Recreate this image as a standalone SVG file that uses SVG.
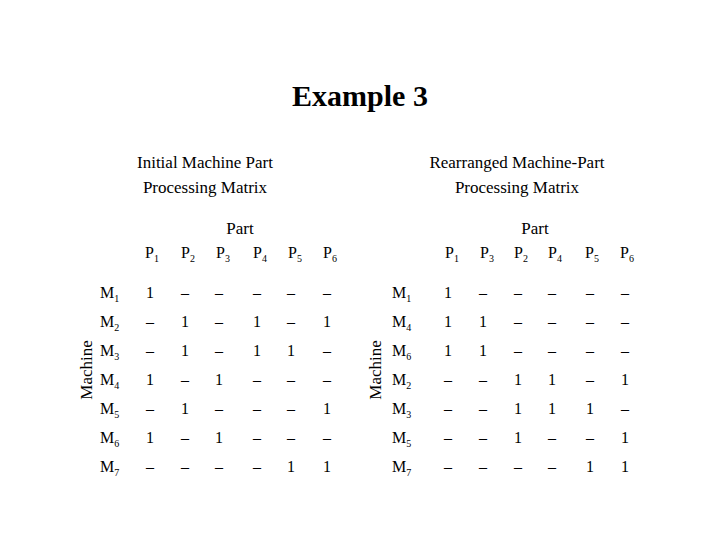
<svg xmlns="http://www.w3.org/2000/svg" width="720" height="540" viewBox="0 0 720 540">
<style>
text{font-family:"Liberation Serif","Times New Roman",serif;fill:#000}
.t{font-size:30px;font-weight:bold;text-anchor:middle}
.s{font-size:17px;text-anchor:middle}
.c{font-size:16px;text-anchor:middle}
.r{font-size:16px}
.sub{font-size:10px}
</style>
<rect width="720" height="540" fill="#fff"/>
<text class="t" x="360" y="106">Example 3</text>
<g id="left">
<text class="s" x="205" y="168">Initial Machine Part</text>
<text class="s" x="205" y="193">Processing Matrix</text>
<text class="s" x="240" y="234">Part</text>
<text class="s" transform="translate(92,370) rotate(-90)">Machine</text>
<g class="c">
<text x="152" y="258">P<tspan class="sub" dy="4">1</tspan></text>
<text x="188" y="258">P<tspan class="sub" dy="4">2</tspan></text>
<text x="223" y="258">P<tspan class="sub" dy="4">3</tspan></text>
<text x="260" y="258">P<tspan class="sub" dy="4">4</tspan></text>
<text x="295" y="258">P<tspan class="sub" dy="4">5</tspan></text>
<text x="330" y="258">P<tspan class="sub" dy="4">6</tspan></text>
</g>
<g class="r">
<text x="100" y="298">M<tspan class="sub" dy="4">1</tspan></text>
<text x="100" y="327">M<tspan class="sub" dy="4">2</tspan></text>
<text x="100" y="356">M<tspan class="sub" dy="4">3</tspan></text>
<text x="100" y="385">M<tspan class="sub" dy="4">4</tspan></text>
<text x="100" y="414">M<tspan class="sub" dy="4">5</tspan></text>
<text x="100" y="443">M<tspan class="sub" dy="4">6</tspan></text>
<text x="100" y="472">M<tspan class="sub" dy="4">7</tspan></text>
</g>
<g class="c">
<text x="150" y="298">1</text><text x="185" y="298">–</text><text x="219" y="298">–</text><text x="257" y="298">–</text><text x="291" y="298">–</text><text x="327" y="298">–</text>
<text x="150" y="327">–</text><text x="185" y="327">1</text><text x="219" y="327">–</text><text x="257" y="327">1</text><text x="291" y="327">–</text><text x="327" y="327">1</text>
<text x="150" y="356">–</text><text x="185" y="356">1</text><text x="219" y="356">–</text><text x="257" y="356">1</text><text x="291" y="356">1</text><text x="327" y="356">–</text>
<text x="150" y="385">1</text><text x="185" y="385">–</text><text x="219" y="385">1</text><text x="257" y="385">–</text><text x="291" y="385">–</text><text x="327" y="385">–</text>
<text x="150" y="414">–</text><text x="185" y="414">1</text><text x="219" y="414">–</text><text x="257" y="414">–</text><text x="291" y="414">–</text><text x="327" y="414">1</text>
<text x="150" y="443">1</text><text x="185" y="443">–</text><text x="219" y="443">1</text><text x="257" y="443">–</text><text x="291" y="443">–</text><text x="327" y="443">–</text>
<text x="150" y="472">–</text><text x="185" y="472">–</text><text x="219" y="472">–</text><text x="257" y="472">–</text><text x="291" y="472">1</text><text x="327" y="472">1</text>
</g>
</g>
<g id="right">
<text class="s" x="517" y="168">Rearranged Machine-Part</text>
<text class="s" x="517" y="193">Processing Matrix</text>
<text class="s" x="535" y="234">Part</text>
<text class="s" transform="translate(381,370) rotate(-90)">Machine</text>
<g class="c">
<text x="452" y="258">P<tspan class="sub" dy="4">1</tspan></text>
<text x="487" y="258">P<tspan class="sub" dy="4">3</tspan></text>
<text x="521" y="258">P<tspan class="sub" dy="4">2</tspan></text>
<text x="555" y="258">P<tspan class="sub" dy="4">4</tspan></text>
<text x="592" y="258">P<tspan class="sub" dy="4">5</tspan></text>
<text x="627" y="258">P<tspan class="sub" dy="4">6</tspan></text>
</g>
<g class="r">
<text x="392" y="298">M<tspan class="sub" dy="4">1</tspan></text>
<text x="392" y="327">M<tspan class="sub" dy="4">4</tspan></text>
<text x="392" y="356">M<tspan class="sub" dy="4">6</tspan></text>
<text x="392" y="385">M<tspan class="sub" dy="4">2</tspan></text>
<text x="392" y="414">M<tspan class="sub" dy="4">3</tspan></text>
<text x="392" y="443">M<tspan class="sub" dy="4">5</tspan></text>
<text x="392" y="472">M<tspan class="sub" dy="4">7</tspan></text>
</g>
<g class="c">
<text x="448" y="298">1</text><text x="483" y="298">–</text><text x="518" y="298">–</text><text x="552" y="298">–</text><text x="590" y="298">–</text><text x="625" y="298">–</text>
<text x="448" y="327">1</text><text x="483" y="327">1</text><text x="518" y="327">–</text><text x="552" y="327">–</text><text x="590" y="327">–</text><text x="625" y="327">–</text>
<text x="448" y="356">1</text><text x="483" y="356">1</text><text x="518" y="356">–</text><text x="552" y="356">–</text><text x="590" y="356">–</text><text x="625" y="356">–</text>
<text x="448" y="385">–</text><text x="483" y="385">–</text><text x="518" y="385">1</text><text x="552" y="385">1</text><text x="590" y="385">–</text><text x="625" y="385">1</text>
<text x="448" y="414">–</text><text x="483" y="414">–</text><text x="518" y="414">1</text><text x="552" y="414">1</text><text x="590" y="414">1</text><text x="625" y="414">–</text>
<text x="448" y="443">–</text><text x="483" y="443">–</text><text x="518" y="443">1</text><text x="552" y="443">–</text><text x="590" y="443">–</text><text x="625" y="443">1</text>
<text x="448" y="472">–</text><text x="483" y="472">–</text><text x="518" y="472">–</text><text x="552" y="472">–</text><text x="590" y="472">1</text><text x="625" y="472">1</text>
</g>
</g>
</svg>
